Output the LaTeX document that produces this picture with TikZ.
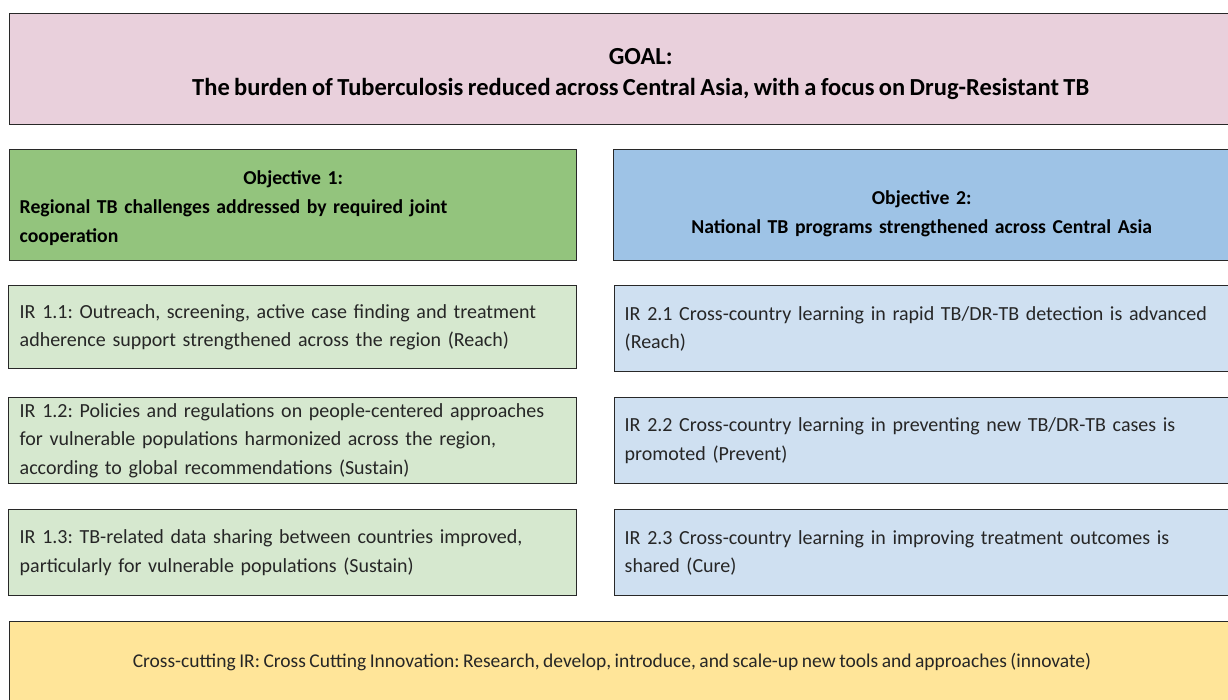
\documentclass[tikz,border=0pt]{standalone}
\usepackage{fontspec}
\setmainfont{Carlito}[WordSpace=0.8]
\usepackage{xcolor}
\usetikzlibrary{positioning}

\definecolor{goalpink}{RGB}{233,208,220}
\definecolor{objgreen}{RGB}{147,196,125}
\definecolor{objblue}{RGB}{158,195,230}
\definecolor{irgreen}{RGB}{214,232,207}
\definecolor{irblue}{RGB}{207,224,241}
\definecolor{crossyellow}{RGB}{255,229,153}
\definecolor{boxline}{RGB}{40,40,40}
\definecolor{bodytext}{RGB}{38,38,38}

\tikzset{
  box/.style={draw=boxline, line width=1.4pt, anchor=north west, inner xsep=10pt, inner ysep=0pt},
  objbox/.style={box, minimum height=111, font=\bfseries\fontsize{19.7}{29}\selectfont},
  irbox/.style={box, minimum height=86, align=left, text=bodytext, font=\fontsize{20}{28.5}\selectfont}
}

\begin{document}
\frenchspacing
\begin{tikzpicture}[x=1pt,y=-1pt]
\useasboundingbox (0,0) rectangle (1228,700);
\clip (0,0) rectangle (1228,700);
    % goal across the top
    \node[box, fill=goalpink, minimum width=1262, minimum height=111, align=center,
      font=\bfseries\fontsize{24.5}{31}\selectfont] (goal) at (9,13)
      {\rule{0pt}{25pt}GOAL:\\The burden of Tuberculosis reduced across Central Asia, with a focus on Drug-Resistant TB};
    % the two objectives
    \node[objbox, fill=objgreen, text width=547, align=left] (obj1) at (9,149)
      {\makebox[\linewidth]{\rule{0pt}{20pt}Objective 1:}\\Regional TB challenges addressed by required joint\\cooperation};
    \node[objbox, fill=objblue, text width=596, align=center] (obj2) at (613,149)
      {\rule{0pt}{30pt}Objective 2:\\National TB programs strengthened across Central Asia};
    % intermediate results, objective 1
    \node[irbox, fill=irgreen, text width=546, inner xsep=11pt, minimum height=83] (ir11) at (8,285)
      {IR 1.1: Outreach, screening, active case finding and treatment\\adherence support strengthened across the region (Reach)};
    \node[irbox, fill=irgreen, text width=546, inner xsep=11pt] (ir12) at (8,397)
      {IR 1.2: Policies and regulations on people-centered approaches\\for vulnerable populations harmonized across the region,\\according to global recommendations (Sustain)};
    \node[irbox, fill=irgreen, text width=546, inner xsep=11pt] (ir13) at (8,509)
      {IR 1.3: TB-related data sharing between countries improved,\\particularly for vulnerable populations (Sustain)};
    % intermediate results, objective 2
    \node[irbox, fill=irblue, text width=610] (ir21) at (614,285)
      {IR 2.1 Cross-country learning in rapid TB/DR-TB detection is advanced\\(Reach)};
    \node[irbox, fill=irblue, text width=610] (ir22) at (614,397)
      {IR 2.2 Cross-country learning in preventing new TB/DR-TB cases is\\promoted (Prevent)};
    \node[irbox, fill=irblue, text width=610] (ir23) at (614,509)
      {IR 2.3 Cross-country learning in improving treatment outcomes is\\shared (Cure)};
    % cross-cutting result along the bottom
    \node[box, fill=crossyellow, minimum width=1262, minimum height=100] (cross) at (9,621) {};
    \node[text=bodytext, font=\fontsize{19.5}{25}\selectfont] (crosstext) at (612,662)
      {Cross-cutting IR: Cross Cutting Innovation: Research, develop, introduce, and scale-up new tools and approaches (innovate)};
\end{tikzpicture}
\end{document}
